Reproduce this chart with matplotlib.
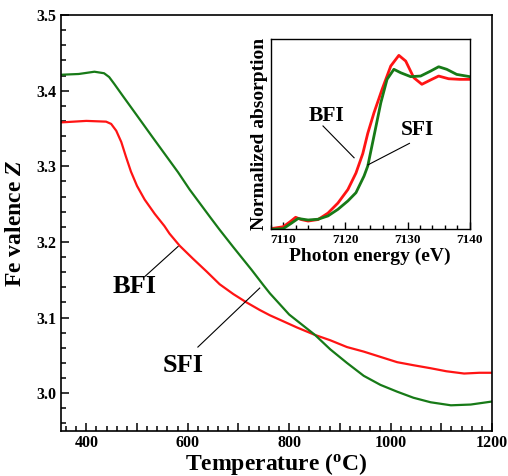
import matplotlib
matplotlib.use('Agg')
import matplotlib.pyplot as plt
from matplotlib.ticker import MultipleLocator, FuncFormatter

plt.rcParams['font.family'] = ['Liberation Serif', 'DejaVu Serif']
plt.rcParams['font.weight'] = 'bold'
plt.rcParams['mathtext.fontset'] = 'custom'
plt.rcParams['mathtext.rm'] = 'Liberation Serif:bold'
plt.rcParams['mathtext.it'] = 'Liberation Serif:italic:bold'

# main panel: Fe valence vs temperature
bfi_temp = [350, 400, 439, 449, 459, 469, 478, 488, 500, 515, 535, 554, 564, 584, 610, 637,
            663, 690, 716, 742, 762, 782, 815, 851, 881, 914, 947, 980, 1013, 1045, 1079,
            1110, 1145, 1175, 1200]
bfi_z = [3.358, 3.360, 3.359, 3.356, 3.347, 3.332, 3.313, 3.293, 3.274, 3.256, 3.237, 3.221,
         3.211, 3.195, 3.178, 3.161, 3.144, 3.131, 3.120, 3.110, 3.103, 3.097, 3.087, 3.077,
         3.070, 3.061, 3.055, 3.048, 3.041, 3.037, 3.033, 3.029, 3.026, 3.027, 3.027]

sfi_temp = [350, 385, 416, 435, 445, 455, 472, 500, 530, 581, 604, 645, 663, 690, 726, 749,
            762, 800, 851, 881, 914, 947, 980, 1013, 1045, 1079, 1119, 1158, 1200]
sfi_z = [3.421, 3.422, 3.425, 3.423, 3.418, 3.409, 3.393, 3.367, 3.339, 3.292, 3.269, 3.232,
         3.216, 3.193, 3.163, 3.143, 3.132, 3.104, 3.077, 3.058, 3.040, 3.023, 3.011, 3.002,
         2.994, 2.988, 2.984, 2.985, 2.989]

# inset: XANES spectra
bfi_ev = [7108.0, 7110.0, 7111.1, 7112.0, 7112.9, 7114.0, 7115.6, 7117.2, 7118.8, 7120.4,
          7121.7, 7122.8, 7123.6, 7124.6, 7125.9, 7127.3, 7128.6, 7129.7, 7131.0, 7132.3,
          7133.9, 7135.0, 7136.6, 7138.4, 7140.0]
bfi_abs = [0.004, 0.017, 0.050, 0.080, 0.065, 0.055, 0.065, 0.108, 0.175, 0.265, 0.375,
           0.505, 0.640, 0.777, 0.933, 1.089, 1.160, 1.122, 1.011, 0.967, 1.000, 1.022,
           1.004, 1.000, 1.000]

sfi_ev = [7108.0, 7110.0, 7111.3, 7112.4, 7114.0, 7115.6, 7117.2, 7118.8, 7120.4, 7121.7,
          7123.0, 7123.6, 7124.6, 7125.7, 7126.7, 7127.8, 7128.9, 7130.5, 7132.1, 7133.7,
          7135.0, 7136.3, 7137.9, 7140.0]
sfi_abs = [0.000, 0.004, 0.040, 0.072, 0.062, 0.067, 0.089, 0.133, 0.189, 0.244, 0.355,
           0.422, 0.622, 0.844, 1.000, 1.067, 1.044, 1.018, 1.022, 1.055, 1.084, 1.067,
           1.033, 1.018]

red = '#ff1414'
green = '#177a17'

fig = plt.figure(figsize=(5.08, 4.76), dpi=100)
ax = fig.add_axes([0.120, 0.0945, 0.8485, 0.874])

ax.plot(bfi_temp, bfi_z, color=red, lw=1.6)
ax.plot(sfi_temp, sfi_z, color=green, lw=1.6)

ax.set_xlim(350, 1200)
ax.set_ylim(2.95, 3.5)
ax.xaxis.set_major_locator(MultipleLocator(100))
ax.xaxis.set_minor_locator(MultipleLocator(20))
ax.xaxis.set_major_formatter(FuncFormatter(lambda v, p: f'{v:.0f}' if v % 200 == 0 else ''))
ax.yaxis.set_major_locator(MultipleLocator(0.1))
ax.yaxis.set_minor_locator(MultipleLocator(0.02))
ax.yaxis.set_major_formatter(FuncFormatter(lambda v, p: f'{v:.1f}'))
ax.tick_params(which='both', direction='in', top=False, right=False, labelsize=11.5, width=1.1)
ax.tick_params(which='major', length=6)
ax.tick_params(which='minor', length=3.5)
ax.tick_params(axis='x', pad=3)
for s in ax.spines.values():
    s.set_linewidth(1.2)

ax.set_xlabel(r'Temperature ($^{\mathrm{o}}$C)', fontsize=17, fontweight='bold', labelpad=0)
ax.set_ylabel(r'Fe valence $Z$', fontsize=17, fontweight='bold', labelpad=7)

ax.text(495, 3.141, 'BFI', fontsize=19, fontweight='bold', ha='center', va='center')
ax.plot([515, 581], [3.154, 3.194], color='black', lw=0.8)
ax.text(591, 3.037, 'SFI', fontsize=19, fontweight='bold', ha='center', va='center')
ax.plot([620, 742], [3.061, 3.139], color='black', lw=0.8)

# inset
ins = fig.add_axes([0.533, 0.5183, 0.3917, 0.3991])
ins.plot(bfi_ev, bfi_abs, color=red, lw=2.0)
ins.plot(sfi_ev, sfi_abs, color=green, lw=2.0)
ins.set_xlim(7108, 7140)
ins.set_ylim(0, 1.267)
ins.xaxis.set_major_locator(MultipleLocator(10))
ins.xaxis.set_minor_locator(MultipleLocator(2))
ins.set_yticks([])
ins.tick_params(which='both', direction='in', top=False, right=False, labelsize=9.5, width=1.0)
ins.tick_params(which='major', length=5)
ins.tick_params(which='minor', length=3)
for s in ins.spines.values():
    s.set_linewidth(1.0)
ins.set_xlabel('Photon energy (eV)', fontsize=14, fontweight='bold', labelpad=1)
ins.set_ylabel('Normalized absorption', fontsize=14, fontweight='bold', labelpad=2)

ins.text(7116.9, 0.755, 'BFI', fontsize=15.5, fontweight='bold', ha='center', va='center')
ins.plot([7116.4, 7121.4], [0.689, 0.477], color='black', lw=0.8)
ins.text(7131.6, 0.662, 'SFI', fontsize=15.5, fontweight='bold', ha='center', va='center')
ins.plot([7130.3, 7123.6], [0.573, 0.429], color='black', lw=0.8)

fig.savefig('out.png', dpi=100)
